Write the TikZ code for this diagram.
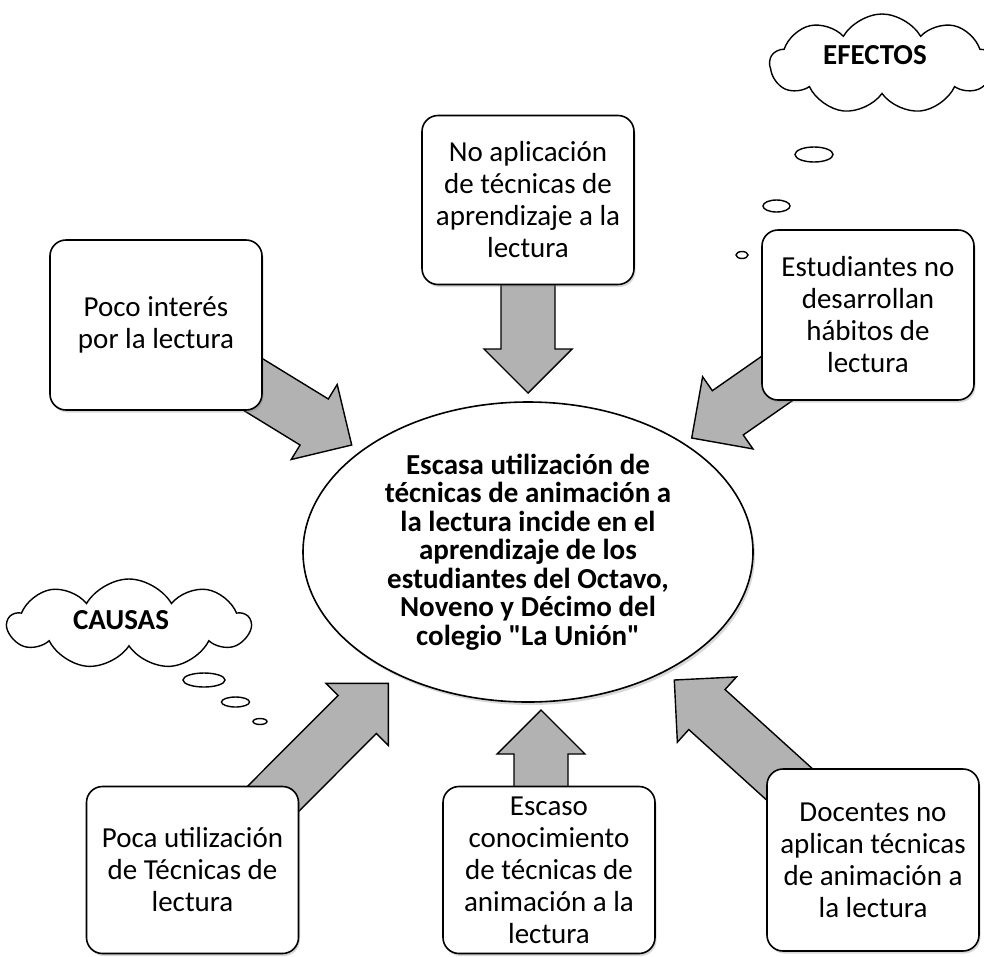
\documentclass[tikz,border=0pt]{standalone}
\usepackage{fontspec}
\setmainfont{Carlito}[Ligatures=TeXOff]
\usetikzlibrary{calc,shapes.geometric,shapes.symbols,shadows,backgrounds}
\definecolor{arrowgray}{RGB}{178,178,178}
\newcommand{\blockarrow}[2]{%
  \coordinate (hb) at ($(#2)!44pt!(#1)$);
  \draw[barrow] ($(#1)!27pt!90:(#2)$) -- ($(hb)!27pt!90:(#2)$) -- ($(hb)!44pt!90:(#2)$)
     -- (#2) -- ($(hb)!44pt!-90:(#2)$) -- ($(hb)!27pt!-90:(#2)$) -- ($(#1)!27pt!-90:(#2)$) -- cycle;
}
\begin{document}
\begin{tikzpicture}[x=1pt,y=-1pt,
  box/.style={draw, line width=1.6pt, rounded corners=16pt, fill=white,
    minimum width=212pt, align=center, inner sep=0pt,
    font=\fontsize{29}{32}\selectfont,
    drop shadow={shadow xshift=1.5pt, shadow yshift=-2.5pt, opacity=0.3}},
  barrow/.style={draw, line width=1.4pt, fill=arrowgray, line join=miter},
  mainell/.style={ellipse, draw, line width=1.6pt, fill=white, minimum width=450pt,
    minimum height=300pt, inner sep=0pt, align=center,
    font=\bfseries\fontsize{29}{28.5}\selectfont,
    drop shadow={shadow xshift=2pt, shadow yshift=-3pt, opacity=0.3}},
  thought/.style={cloud, draw, line width=1.4pt, cloud puffs=9, cloud puff arc=120,
    cloud ignores aspect, inner sep=0pt},
  cloudtext/.style={font=\bfseries\fontsize{29}{32}\selectfont, inner sep=0pt},
  bubble/.style={ellipse, draw, line width=1.4pt, inner sep=0pt}]
\useasboundingbox (0,0) rectangle (984,956);

\node[mainell] (main) at (528,552) {Escasa utilización de\\técnicas de animación a\\la lectura incide en el\\aprendizaje de los\\estudiantes del Octavo,\\Noveno y Décimo del\\colegio "La Unión"};

\node[box, minimum height=170pt] (b1) at (156,325) {Poco interés\\por la lectura};
\node[box, minimum height=169pt] (b2) at (528,200) {No aplicación\\de técnicas de\\aprendizaje a la\\lectura};
\node[box, minimum height=170pt] (b3) at (868,315) {Estudiantes no\\desarrollan\\hábitos de\\lectura};
\node[box, minimum height=167pt] (b4) at (192.5,870) {Poca utilización\\de Técnicas de\\lectura};
\node[box, minimum height=167pt] (b5) at (549,870) {Escaso\\conocimiento\\de técnicas de\\animación a la\\lectura};
\node[box, minimum height=182pt] (b6) at (873,860) {Docentes no\\aplican técnicas\\de animación a\\la lectura};

\node[thought, minimum width=224pt, minimum height=100pt] (efectos) at (882,64) {};
\node[cloudtext] (efectostext) at (875,55) {EFECTOS};
\node[bubble, minimum width=38pt, minimum height=15pt] (e1) at (814,154.5) {};
\node[bubble, minimum width=27pt, minimum height=12pt] (e2) at (776.5,206) {};
\node[bubble, minimum width=12pt, minimum height=7pt] (e3) at (742,255) {};

\node[thought, minimum width=242pt, minimum height=90pt] (causas) at (129,624) {};
\node[cloudtext] (causastext) at (121,620) {CAUSAS};
\node[bubble, minimum width=42pt, minimum height=14pt] (c1) at (204,680) {};
\node[bubble, minimum width=28pt, minimum height=10pt] (c2) at (235.5,702) {};
\node[bubble, minimum width=14pt, minimum height=6pt] (c3) at (260,721.5) {};

\coordinate (t1) at (351.7,445);
\coordinate (t2) at (528,393);
\coordinate (t3) at (691.7,438);
\coordinate (t4) at (388.3,683.3);
\coordinate (a4s) at (250,822);
\coordinate (t5) at (541,710);
\coordinate (a5s) at (541,870);
\coordinate (t6) at (674.3,680);

\begin{pgfonlayer}{background}
\fill[white] (0,0) rectangle (984,956);
\blockarrow{b1.center}{t1}
\blockarrow{b2.center}{t2}
\blockarrow{b3.center}{t3}
\blockarrow{a4s}{t4}
\blockarrow{a5s}{t5}
\blockarrow{b6.center}{t6}
\end{pgfonlayer}
\end{tikzpicture}
\end{document}
